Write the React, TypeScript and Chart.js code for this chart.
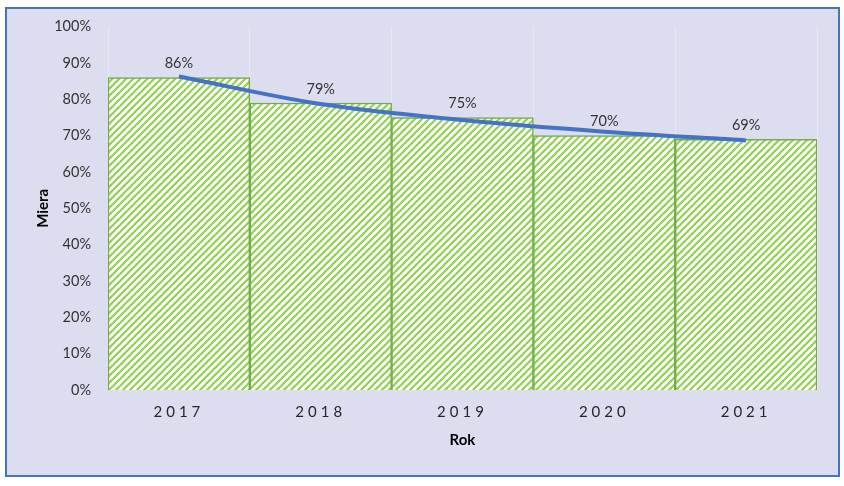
import React, { useEffect, useRef } from "react";
import { Chart, registerables } from "chart.js";

Chart.register(...registerables);

const categories = ["2017", "2018", "2019", "2020", "2021"];
const values = [86, 79, 75, 70, 69];
const trendValues = [86.3, 78.7, 74.3, 71.1, 68.7];
const yTicks = [0, 10, 20, 30, 40, 50, 60, 70, 80, 90, 100];

function makePattern(ctx: CanvasRenderingContext2D) {
  const s = 7;
  const c = document.createElement("canvas");
  c.width = s;
  c.height = s;
  const g = c.getContext("2d")!;
  g.fillStyle = "#ffffff";
  g.fillRect(0, 0, s, s);
  g.strokeStyle = "#92D050";
  g.lineWidth = 2.2;
  for (const k of [0, s, 2 * s]) {
    g.beginPath();
    g.moveTo(-3, k + 3);
    g.lineTo(s + 3, k - s - 3);
    g.stroke();
  }
  return ctx.createPattern(c, "repeat")!;
}

const labelPlugin = {
  id: "barLabels",
  beforeDraw(chart: any) {
    const s = chart.scales.x;
    if (s && !s._spaced) {
      const orig = s.drawLabels.bind(s);
      s.drawLabels = (area: any) => {
        const ctx = chart.ctx;
        ctx.save();
        (ctx as any).letterSpacing = "4px";
        orig(area);
        ctx.restore();
      };
      s._spaced = true;
    }
  },
  afterDatasetsDraw(chart: any) {
    const ctx = chart.ctx;
    const meta = chart.getDatasetMeta(1);
    ctx.save();
    ctx.font = "14.5px Lato";
    ctx.fillStyle = "#333333";
    ctx.textAlign = "center";
    ctx.textBaseline = "middle";
    meta.data.forEach((bar: any, i: number) => {
      ctx.fillText(values[i] + "%", bar.x, bar.y - 14);
    });
    ctx.restore();
  },
};

export default function App() {
  const ref = useRef<HTMLCanvasElement>(null);
  useEffect(() => {
    document.body.style.margin = "0";
    const canvas = ref.current!;
    const ctx = canvas.getContext("2d")!;
    const pattern = makePattern(ctx);
    const chart = new Chart(canvas, {
      type: "bar",
      data: {
        labels: categories,
        datasets: [
          {
            type: "line",
            data: trendValues,
            borderColor: "#4472C4",
            borderWidth: 4,
            pointRadius: 0,
            cubicInterpolationMode: "monotone",
            order: 0,
          } as any,
          {
            type: "bar",
            data: values,
            backgroundColor: pattern as any,
            borderColor: "#70AD47",
            borderWidth: 1.5,
            barPercentage: 1,
            categoryPercentage: 1,
            order: 1,
          },
        ],
      },
      options: {
        responsive: false,
        animation: false,
        layout: { padding: { left: 23, right: 21, top: 15, bottom: 22 } },
        plugins: { legend: { display: false }, tooltip: { enabled: false } },
        scales: {
          x: {
            grid: { display: true, color: "#E8E8F4", lineWidth: 1, drawTicks: false, offset: true },
            border: { display: false },
            ticks: { font: { family: "Lato", size: 15 }, color: "#262626", padding: 13 },
            title: { display: true, text: "Rok", font: { family: "Lato", size: 15, weight: "bold" }, color: "#000000" },
            afterFit: (s: any) => { s.height = 63; },
          },
          y: {
            min: 0,
            max: 100,
            afterBuildTicks: (s: any) => { s.ticks = yTicks.map((v) => ({ value: v })); },
            grid: { display: false },
            border: { display: false },
            ticks: { font: { family: "Lato", size: 14.5 }, color: "#333333", padding: 9, callback: (v: any) => v + "%" },
            title: { display: true, text: "Miera", font: { family: "Lato", size: 15, weight: "bold" }, color: "#000000" },
            afterFit: (s: any) => { s.width = 78; },
          },
        },
      },
      plugins: [labelPlugin],
    });
    return () => chart.destroy();
  }, []);
  return (
    <div
      style={{
        position: "absolute",
        left: 5,
        top: 7,
        width: 835,
        height: 470,
        boxSizing: "border-box",
        border: "2px solid #4472C4",
        background: "#DDDDF0",
      }}
    >
      <canvas ref={ref} width={831} height={466} style={{ display: "block" }} />
    </div>
  );
}
